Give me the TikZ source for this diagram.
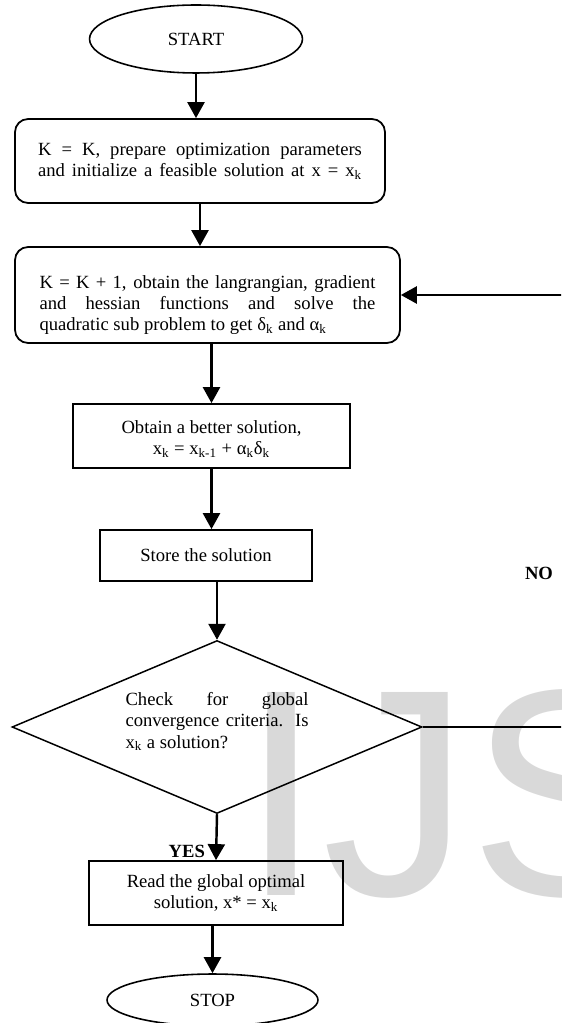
\documentclass[tikz,border=0pt]{standalone}
\usepackage{fontspec}
\setmainfont{Liberation Serif}
\newfontfamily\markfont{Liberation Sans}
\usetikzlibrary{shapes.geometric, arrows.meta}

\begin{document}
\begin{tikzpicture}[
  x=0.02cm, y=-0.02cm,
  font=\fontsize{10.6}{12.2}\selectfont,
  terminal/.style={ellipse, draw, line width=0.9pt},
  roundbox/.style={rectangle, draw, rounded corners=0.26cm, line width=1pt},
  plainbox/.style={rectangle, draw, line width=1pt},
  decision/.style={diamond, draw, line width=0.85pt, aspect=2.37, inner sep=1pt},
  wire/.style={-{Triangle[length=0.32cm, width=0.34cm]}, line width=1.4pt},
  answer/.style={font=\fontsize{10.6}{12.2}\selectfont\bfseries}
]

% Page frame (the right side of the loop runs off the page)
\clip (0,0) rectangle (561,1023);

% Watermark behind the chart
\node[anchor=base west, inner sep=0, text=black!15, font=\markfont\fontsize{168}{168}\selectfont] (mark) at (240, 895) {IJS};

% Start and set-up
\node[terminal, minimum width=4.26cm, minimum height=1.36cm] (start) at (196, 39) {START};

\node[roundbox, minimum width=7.4cm, minimum height=1.68cm, align=left] (init) at (200, 161)
  {\makebox[6.48cm][s]{K = K, prepare optimization parameters}\\
   \makebox[6.48cm][s]{and initialize a feasible solution at x = x\textsubscript{k}}};

% Iteration step
\node[roundbox, minimum width=7.7cm, minimum height=1.92cm, align=left] (upd) at (207.5, 295)
  {\rule{0pt}{0.66cm}\makebox[6.72cm][s]{K = K + 1, obtain the langrangian, gradient}\\
   \makebox[6.72cm][s]{and hessian functions and solve the}\\
   quadratic sub problem to get δ\textsubscript{k} and α\textsubscript{k}};

\node[plainbox, minimum width=5.54cm, minimum height=1.28cm, align=center] (better) at (211.5, 436)
  {\rule{0pt}{0.37cm}Obtain a better solution,\\ x\textsubscript{k} = x\textsubscript{k-1} + α\textsubscript{k}δ\textsubscript{k}};

\node[plainbox, minimum width=4.24cm, minimum height=1.02cm] (store) at (206, 555.5) {Store the solution};

% Convergence test
\node[decision, minimum width=8.2cm, minimum height=3.46cm, align=left] (chk) at (217, 727)
  {\makebox[3.66cm][s]{Check for global}\\
   \makebox[3.66cm][s]{convergence criteria. Is}\\
   x\textsubscript{k} a solution?\rule[-0.28cm]{0pt}{0.1pt}};

% Result and stop
\node[plainbox, minimum width=5.08cm, minimum height=1.28cm, align=center] (read) at (216, 893)
  {Read the global optimal\\ solution, x* = x\textsubscript{k}};

\node[terminal, minimum width=4.22cm, minimum height=1.04cm] (stop) at (212.5, 1000) {STOP};

% Wires (straight down)
\draw[wire] (start.south) -- (start.south |- init.north);
\draw[wire] (init.south) -- (init.south |- upd.north);
\draw[wire] (better.north |- upd.south) -- (better.north);
\draw[wire] (better.south) -- (better.south |- store.north);
\draw[wire] (chk.north |- store.south) -- (chk.north);
\draw[wire] (chk.south) -- (read.north);
\draw[wire] (stop.north |- read.south) -- (stop.north);

% Loop back when not converged
\coordinate (loop) at (575, 727);
\draw[wire] (chk.east) -- (loop) |- (upd.east);

% Branch labels
\node[answer, anchor=east, inner sep=1pt] (yes) at (207, 851) {YES};
\node[answer] (no) at (539, 573) {NO};

\end{tikzpicture}
\end{document}
